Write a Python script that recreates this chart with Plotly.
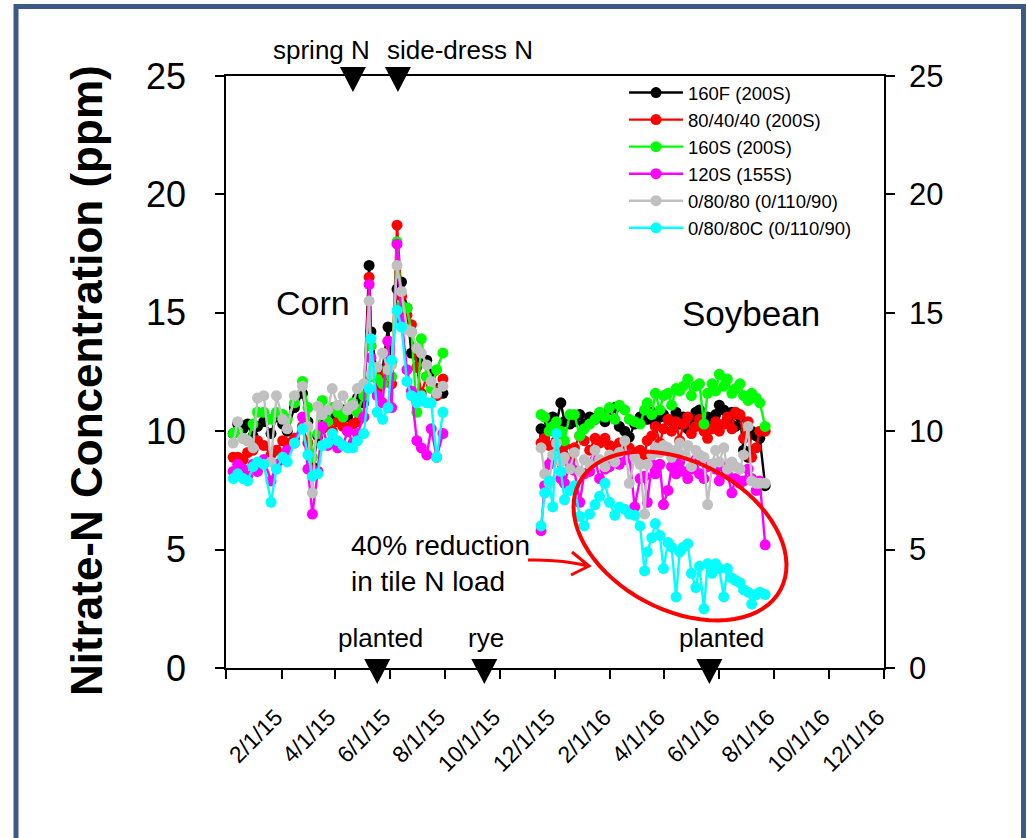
import math
import plotly.graph_objects as go

# ---------------- data ----------------
corn_dates = ["2014-12-09", "2014-12-14", "2014-12-20", "2014-12-25", "2014-12-31", "2015-01-05",
              "2015-01-12", "2015-01-20", "2015-01-26", "2015-02-02", "2015-02-07", "2015-02-15",
              "2015-02-24", "2015-03-02", "2015-03-07", "2015-03-13", "2015-03-18", "2015-03-24",
              "2015-03-29", "2015-04-04", "2015-04-10", "2015-04-15", "2015-04-21", "2015-04-26",
              "2015-05-03", "2015-05-09", "2015-05-11", "2015-05-18", "2015-05-24", "2015-05-30",
              "2015-06-03", "2015-06-09", "2015-06-14", "2015-06-20", "2015-06-25", "2015-07-01",
              "2015-07-06", "2015-07-12", "2015-07-17", "2015-07-23", "2015-07-30"]

soy_dates = ["2015-11-16", "2015-11-20", "2015-11-25", "2015-11-29", "2015-12-03", "2015-12-08",
             "2015-12-12", "2015-12-18", "2015-12-23", "2015-12-29", "2016-01-03", "2016-01-09",
             "2016-01-15", "2016-01-20", "2016-01-26", "2016-01-31", "2016-02-06", "2016-02-11",
             "2016-02-17", "2016-02-22", "2016-02-28", "2016-03-05", "2016-03-10", "2016-03-13",
             "2016-03-18", "2016-03-22", "2016-03-27", "2016-03-31", "2016-04-05", "2016-04-09",
             "2016-04-14", "2016-04-18", "2016-04-22", "2016-04-27", "2016-05-01", "2016-05-06",
             "2016-05-10", "2016-05-15", "2016-05-19", "2016-05-24", "2016-05-28", "2016-06-01",
             "2016-06-06", "2016-06-10", "2016-06-15", "2016-06-19", "2016-06-24", "2016-06-28",
             "2016-07-03", "2016-07-07", "2016-07-12", "2016-07-16", "2016-07-22"]

series_names = ["160F (200S)", "80/40/40 (200S)", "160S (200S)", "120S (155S)",
                "0/80/80 (0/110/90)", "0/80/80C (0/110/90)"]
series_colors = ["#000000", "#ff0000", "#00ff00", "#ff00ff", "#c0c0c0", "#00ffff"]

corn_160F = [9.9, 10.3, 10.1, 10.3, 9.8, 10.2, 10.4, 9.9, 10.6, 10.3, 10.0, 11.0, 11.6, 10.4, 8.5,
             9.8, 10.3, 10.5, 10.7, 10.4, 10.9, 10.6, 11.0, 11.4, 11.2, 17.0, 14.2, 12.3, 12.6, 14.4,
             12.9, 16.0, 16.3, 15.2, 13.3, 13.2, 12.9, 13.0, 12.4, 11.8, 11.6]
corn_80_40_40 = [8.9, 8.9, 8.8, 9.1, 9.2, 9.6, 9.4, 9.0, 9.2, 9.6, 9.5, 9.7, 10.2, 9.5, 8.4,
                 8.3, 10.1, 10.2, 10.0, 10.4, 10.2, 10.0, 10.3, 10.4, 10.6, 16.5, 13.6, 11.7, 12.3, 13.8,
                 12.0, 18.7, 15.7, 14.9, 14.5, 12.7, 11.6, 12.3, 11.9, 11.5, 12.2]
corn_160S = [9.9, 10.0, 9.7, 9.6, 10.3, 10.8, 10.8, 10.5, 10.8, 10.7, 10.5, 11.2, 12.1, 11.0, 8.9,
             9.9, 11.3, 10.4, 11.0, 10.8, 10.6, 10.9, 11.2, 10.8, 11.5, 12.3, 13.6, 12.2, 12.0, 12.5,
             12.3, 18.0, 15.3, 15.2, 14.2, 10.8, 13.9, 12.3, 11.8, 12.6, 13.3]
corn_120S = [8.3, 8.6, 8.4, 8.1, 8.6, 8.3, 8.8, 7.9, 8.6, 8.8, 9.2, 9.5, 10.6, 8.4, 6.5,
             8.3, 10.2, 9.4, 9.6, 9.3, 9.4, 10.0, 9.5, 9.9, 10.6, 16.2, 13.1, 11.5, 11.2, 13.8,
             11.0, 17.9, 14.7, 12.6, 11.7, 9.6, 9.3, 9.0, 10.1, 8.9, 9.9]
corn_0_80_80 = [9.5, 10.4, 9.7, 9.6, 9.3, 11.4, 11.5, 8.7, 11.5, 10.5, 10.1, 11.5, 11.9, 10.2, 7.4,
                11.05, 10.7, 10.9, 11.8, 11.1, 11.5, 10.9, 11.1, 11.8, 12.0, 15.5, 12.4, 12.7, 13.3, 12.6,
                12.8, 17.0, 15.9, 14.3, 14.2, 13.5, 13.3, 12.8, 12.1, 11.6, 11.9]
corn_0_80_80C = [8.0, 8.2, 8.0, 7.9, 8.5, 8.7, 8.6, 7.0, 8.4, 8.9, 8.7, 9.5, 10.1, 9.0, 8.1,
                 8.2, 9.4, 9.5, 9.9, 9.6, 9.4, 9.3, 9.3, 9.6, 9.9, 11.8, 13.9, 10.8, 10.5, 11.0,
                 13.0, 15.1, 14.4, 12.1, 11.5, 11.2, 11.5, 11.2, 11.2, 8.9, 10.8]

soy_160F = [10.1, 9.8, 10.4, 10.6, 10.3, 11.2, 10.4, 10.3, 10.4, 10.7, 10.3, 10.6, 10.5, 10.75,
            10.4, 10.9, 11.0, 10.2, 10.0, 9.75, 10.3, 10.6, 10.75, 10.5, 10.8, 10.3, 10.6, 10.7,
            10.5, 10.4, 10.8, 10.3, 10.6, 10.1, 10.5, 10.8, 10.9, 10.3, 10.6, 10.2, 10.7, 11.1,
            10.9, 10.5, 10.8, 10.2, 10.6, 9.2, 8.9, 10.0, 9.8, 9.7, 7.7]
soy_80_40_40 = [9.5, 9.7, 9.4, 8.8, 9.6, 9.2, 9.4, 8.8, 9.3, 9.8, 9.6, 9.2, 9.7, 9.5,
                9.7, 9.4, 9.3, 9.5, 9.2, 9.3, 9.1, 9.2, 9.0, 9.6, 9.8, 10.2, 9.5, 10.1,
                10.5, 10.0, 10.4, 9.6, 10.3, 10.6, 9.9, 10.2, 10.5, 10.0, 9.7, 10.1, 10.4, 10.0,
                10.3, 10.6, 10.1, 10.8, 10.7, 9.7, 10.4, 8.9, 9.3, 10.0, 10.0]
soy_160S = [10.7, 10.6, 10.0, 10.2, 10.4, 10.0, 9.6, 10.7, 10.7, 9.8, 10.1, 10.3, 10.5, 10.8,
            10.6, 11.0, 10.5, 11.1, 10.9, 10.5, 10.4, 10.3, 10.9, 11.2, 10.7, 11.6, 10.9, 11.5,
            11.6, 11.1, 11.8, 11.7, 11.9, 12.2, 11.5, 11.9, 12.0, 10.3, 11.6, 12.0, 11.7, 12.4,
            11.9, 12.2, 11.6, 11.8, 12.0, 11.5, 11.3, 11.6, 11.4, 11.2, 10.2]
soy_120S = [5.8, 7.7, 8.6, 8.8, 8.9, 8.0, 7.8, 8.6, 8.35, 7.0, 8.2, 8.3, 8.8, 8.0,
            8.4, 8.5, 8.9, 8.6, 8.8, 9.0, 6.8, 8.0, 8.1, 7.0, 8.6, 8.2, 8.6, 6.9,
            7.5, 8.5, 8.2, 8.7, 8.3, 8.0, 8.4, 8.8, 8.2, 8.0, 8.5, 8.6, 8.4, 7.9,
            8.5, 8.2, 7.4, 8.0, 7.8, 7.9, 8.4, 8.0, 7.5, 7.9, 5.2]
soy_0_80_80 = [9.3, 8.2, 7.8, 9.0, 9.5, 8.7, 8.9, 8.4, 9.1, 8.3, 8.8, 8.6, 9.2, 8.8,
               8.5, 9.0, 8.7, 9.1, 9.6, 7.8, 8.9, 8.6, 6.5, 8.6, 9.0, 9.3, 9.1, 9.4,
               9.3, 8.9, 9.2, 9.5, 9.0, 9.4, 8.5, 9.2, 9.0, 8.9, 6.9, 8.6, 9.2, 8.7,
               9.3, 8.4, 8.7, 8.5, 8.4, 9.0, 10.2, 7.9, 7.8, 7.8, 7.8]
soy_0_80_80C = [6.0, 7.4, 7.9, 6.8, 9.9, 8.3, 7.1, 7.5, 7.7, 6.4, 6.0, 6.5, 6.9, 7.25,
                7.8, 7.0, 6.45, 6.8, 6.7, 6.5, 6.45, 6.0, 4.1, 4.9, 5.5, 6.1, 5.6, 4.2,
                5.3, 5.1, 3.0, 4.9, 5.1, 5.25, 4.0, 3.4, 4.3, 2.5, 4.4, 4.0, 4.4, 4.2,
                3.0, 4.2, 3.8, 3.7, 3.6, 3.3, 3.2, 2.7, 3.1, 3.2, 3.1]

corn_values = [corn_160F, corn_80_40_40, corn_160S, corn_120S, corn_0_80_80, corn_0_80_80C]
soy_values = [soy_160F, soy_80_40_40, soy_160S, soy_120S, soy_0_80_80, soy_0_80_80C]

x_tick_vals = ["2014-12-01", "2015-02-01", "2015-04-01", "2015-06-01", "2015-08-01", "2015-10-01",
               "2015-12-01", "2016-02-01", "2016-04-01", "2016-06-01", "2016-08-01", "2016-10-01",
               "2016-12-01"]
x_tick_text = ["", "2/1/15", "4/1/15", "6/1/15", "8/1/15", "10/1/15", "12/1/15", "2/1/16",
               "4/1/16", "6/1/16", "8/1/16", "10/1/16", "12/1/16"]
y_ticks = [0, 5, 10, 15, 20, 25]

top_events = [("spring N", "2015-04-21"), ("side-dress N", "2015-06-10")]
bottom_events = [("planted", "2015-05-18"), ("rye", "2015-09-14"), ("planted", "2016-05-21")]

# ---------------- layout helpers ----------------
W, H = 1027, 838
PL, PR, PT, PB = 226, 884, 76, 668
FONT = "Liberation Sans, Arial, sans-serif"


def px_x(px):
    return (px - PL) / (PR - PL)


def px_y(py):
    return (PB - py) / (PB - PT)


fig = go.Figure()

for name, color, cv, sv in zip(series_names, series_colors, corn_values, soy_values):
    fig.add_trace(go.Scatter(
        x=corn_dates + [None] + soy_dates,
        y=cv + [None] + sv,
        mode="lines+markers",
        name=name,
        line=dict(color=color, width=2.4),
        marker=dict(color=color, size=11),
        connectgaps=False,
        hoverinfo="skip",
    ))

# invisible trace to activate the right-hand axis
fig.add_trace(go.Scatter(x=[x_tick_vals[0]], y=[y_ticks[0]], yaxis="y2", mode="markers",
                         marker=dict(opacity=0), showlegend=False, hoverinfo="skip"))

shapes = []
tri_path = "M -13,9 L 13,9 L 0,-16 Z"
# event markers: x placed by date on the x axis, y pinned to the top / bottom axis line
for label, d in top_events:
    shapes.append(dict(type="path", xref="x", yref="paper", xsizemode="pixel", ysizemode="pixel",
                       xanchor=d, yanchor=1, path=tri_path, layer="above",
                       fillcolor="black", line=dict(color="black", width=0)))
for label, d in bottom_events:
    shapes.append(dict(type="path", xref="x", yref="paper", xsizemode="pixel", ysizemode="pixel",
                       xanchor=d, yanchor=0, path=tri_path, layer="above",
                       fillcolor="black", line=dict(color="black", width=0)))

# red ellipse (hand drawn highlight)
cx, cy, a, b, th = 680, 536, 114, 74, math.radians(28)
pts = []
for k in range(73):
    t = 2 * math.pi * k / 72
    px = cx + a * math.cos(th) * math.cos(t) - b * math.sin(th) * math.sin(t)
    py = cy + a * math.sin(th) * math.cos(t) + b * math.cos(th) * math.sin(t)
    pts.append((px_x(px), px_y(py)))
ell = "M " + " L ".join(f"{x:.5f},{y:.5f}" for x, y in pts) + " Z"
shapes.append(dict(type="path", xref="paper", yref="paper", path=ell,
                   line=dict(color="#ff0000", width=4)))

# red arrow
arrow = (f"M {px_x(528):.5f},{px_y(560):.5f} Q {px_x(560):.5f},{px_y(559):.5f} {px_x(589):.5f},{px_y(566):.5f} "
         f"M {px_x(572):.5f},{px_y(552):.5f} L {px_x(589):.5f},{px_y(566):.5f} L {px_x(571):.5f},{px_y(575):.5f}")
shapes.append(dict(type="path", xref="paper", yref="paper", path=arrow,
                   line=dict(color="#ff0000", width=3)))

# outer frame
shapes.append(dict(type="rect", xref="paper", yref="paper",
                   x0=px_x(16), x1=px_x(1023.5), y0=px_y(6.5), y1=px_y(900),
                   line=dict(color="#3b5a88", width=5), layer="above"))

annotations = []


def add_text(text, px, py, size, xanchor="center", align="center"):
    annotations.append(dict(text=text, xref="paper", yref="paper", x=px_x(px), y=px_y(py),
                            xanchor=xanchor, yanchor="middle", align=align, showarrow=False,
                            font=dict(family=FONT, size=size, color="black")))


add_text("Corn", 313, 303, 34)
add_text("Soybean", 751, 313, 35)
add_text("40% reduction<br>in tile N load", 349, 563, 28, xanchor="left", align="left")
add_text(top_events[0][0], 321, 50, 26)
add_text(top_events[1][0], 460, 50, 26)
add_text(bottom_events[0][0], 380, 638, 26)
add_text(bottom_events[1][0], 486, 638, 26)
add_text(bottom_events[2][0], 721, 638, 26)

annotations.append(dict(text="<b>Nitrate-N Concentration (ppm)</b>", xref="paper", yref="paper",
                        x=px_x(87), y=px_y(381), textangle=-90, showarrow=False,
                        xanchor="center", yanchor="middle",
                        font=dict(family=FONT, size=44, color="black")))

fig.update_layout(
    template="none",
    width=W, height=H,
    margin=dict(l=PL, r=W - PR, t=PT, b=H - PB, autoexpand=False),
    paper_bgcolor="white", plot_bgcolor="white",
    font=dict(family=FONT, color="black"),
    showlegend=True,
    legend=dict(x=px_x(624), y=px_y(74), xanchor="left", yanchor="top",
                bgcolor="rgba(0,0,0,0)", borderwidth=0, itemwidth=54,
                font=dict(family=FONT, size=18.5, color="black"), tracegroupgap=0),
    xaxis=dict(type="date", range=[x_tick_vals[0], x_tick_vals[-1]],
               tickmode="array", tickvals=x_tick_vals, ticktext=x_tick_text,
               tickangle=-45, ticks="outside", ticklen=9, tickwidth=1.5, tickcolor="black",
               showline=True, linecolor="black", linewidth=1.5, mirror=True,
               showgrid=False, zeroline=False, automargin=False,
               ticklabelstandoff=16, ticklabelshift=-6,
               tickfont=dict(family=FONT, size=23, color="black")),
    yaxis=dict(range=[0, 25], tickmode="array", tickvals=y_ticks,
               ticks="outside", ticklen=9, tickwidth=1.5, tickcolor="black",
               showline=True, linecolor="black", linewidth=1.5, mirror=True,
               showgrid=False, zeroline=False, automargin=False, ticklabelstandoff=22,
               tickfont=dict(family=FONT, size=36, color="black")),
    yaxis2=dict(range=[0, 25], overlaying="y", side="right", tickmode="array", tickvals=y_ticks,
                ticks="outside", ticklen=9, tickwidth=1.5, tickcolor="black",
                showline=True, linecolor="black", linewidth=1.5,
                showgrid=False, zeroline=False, automargin=False, ticklabelstandoff=8,
                tickfont=dict(family=FONT, size=31, color="black")),
    shapes=shapes,
    annotations=annotations,
)

fig.write_html("out.html")
